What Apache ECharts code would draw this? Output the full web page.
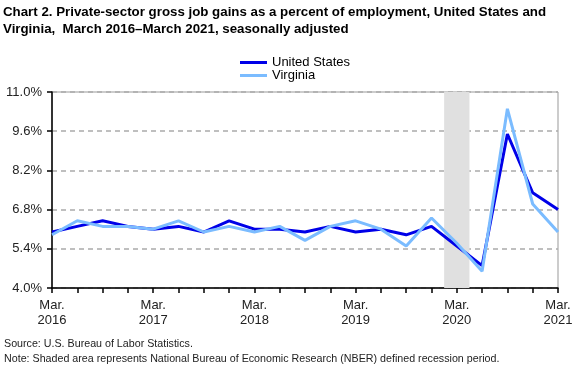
<!DOCTYPE html>
<html>
<head>
<meta charset="utf-8">
<script src="https://cdn.jsdelivr.net/npm/echarts@6/dist/echarts.min.js"></script>
<style>
html,body{margin:0;padding:0;background:#fff;}
#chart{width:583px;height:371px;}
</style>
</head>
<body>
<div id="chart"></div>
<script>
const quarters = ['Mar. 2016','Jun. 2016','Sep. 2016','Dec. 2016',
  'Mar. 2017','Jun. 2017','Sep. 2017','Dec. 2017',
  'Mar. 2018','Jun. 2018','Sep. 2018','Dec. 2018',
  'Mar. 2019','Jun. 2019','Sep. 2019','Dec. 2019',
  'Mar. 2020','Jun. 2020','Sep. 2020','Dec. 2020',
  'Mar. 2021'];
const unitedStates = [6.0,6.2,6.4,6.2,6.1,6.2,6.0,6.4,6.1,6.1,6.0,6.2,6.0,6.1,5.9,6.2,5.5,4.8,9.5,7.4,6.8];
const virginia = [5.9,6.4,6.2,6.2,6.1,6.4,6.0,6.2,6.0,6.2,5.7,6.2,6.4,6.1,5.5,6.5,5.6,4.6,10.4,7.0,6.0];
const recessionQuarter = 'Mar. 2020';
const yTicks = [4.0,5.4,6.8,8.2,9.6,11.0];

const FONT = '"Liberation Sans", Arial, sans-serif';
const chart = echarts.init(document.getElementById('chart'), null, {renderer:'canvas'});
const ri = quarters.indexOf(recessionQuarter);
const toPairs = arr => arr.map((v,i)=>[i,v]);

chart.setOption({
  animation:false,
  backgroundColor:'#fff',
  title:{
    text:'Chart 2. Private-sector gross job gains as a percent of employment, United States and\nVirginia,  March 2016\u2013March 2021, seasonally adjusted',
    left:3, top:4, padding:0,
    textStyle:{fontFamily:FONT, fontWeight:'bold', fontSize:13.3, lineHeight:17, color:'#000'}
  },
  legend:{
    data:['United States','Virginia'],
    orient:'vertical', left:240, top:56, padding:0,
    icon:'rect', itemWidth:27, itemHeight:3, itemGap:0,
    textStyle:{fontFamily:FONT, fontSize:13, lineHeight:13, color:'#000'}
  },
  grid:{left:52, right:25, top:92, bottom:83, show:true, borderColor:'#999', borderWidth:1, containLabel:false},
  xAxis:{
    type:'value', min:0, max:quarters.length-1, interval:1,
    axisLine:{lineStyle:{color:'#000', width:1.5}},
    axisTick:{show:true, length:5, lineStyle:{color:'#000', width:1.5}},
    splitLine:{show:false},
    axisLabel:{
      fontFamily:FONT, fontSize:13, color:'#222', lineHeight:15, margin:10,
      formatter: v => { const q = quarters[Math.round(v)]; return q && q.startsWith('Mar.') ? q.replace(' ', '\n') : ''; }
    }
  },
  yAxis:{
    type:'value', min:yTicks[0], max:yTicks[yTicks.length-1], interval:1.4,
    axisLine:{show:true, lineStyle:{color:'#000', width:1.5}},
    axisTick:{show:true, length:5, lineStyle:{color:'#000', width:1.5}},
    splitLine:{show:true, lineStyle:{color:'#aaa', width:1.5, type:[5,4]}},
    axisLabel:{fontFamily:FONT, fontSize:13, color:'#222', margin:10, formatter: v => v.toFixed(1)+'%'}
  },
  series:[
    {name:'recession', type:'line', data:[], z:1, silent:true,
     markArea:{silent:true, itemStyle:{color:'#e0e0e0'}, data:[[{xAxis:ri-0.5},{xAxis:ri+0.5}]]}},
    {name:'United States', type:'line', data:toPairs(unitedStates), symbol:'none', z:3,
     lineStyle:{color:'#0000e8', width:3}, itemStyle:{color:'#0000e8'}},
    {name:'Virginia', type:'line', data:toPairs(virginia), symbol:'none', z:4,
     lineStyle:{color:'#7bbcff', width:3}, itemStyle:{color:'#7bbcff'}}
  ],
  graphic:[
    {type:'text', left:4, top:339, style:{text:'Source: U.S. Bureau of Labor Statistics.', font:'10.7px '+FONT, fill:'#222'}},
    {type:'text', left:4, top:354, style:{text:'Note: Shaded area represents National Bureau of Economic Research (NBER) defined recession period.', font:'10.7px '+FONT, fill:'#222'}}
  ]
});
</script>
</body>
</html>
